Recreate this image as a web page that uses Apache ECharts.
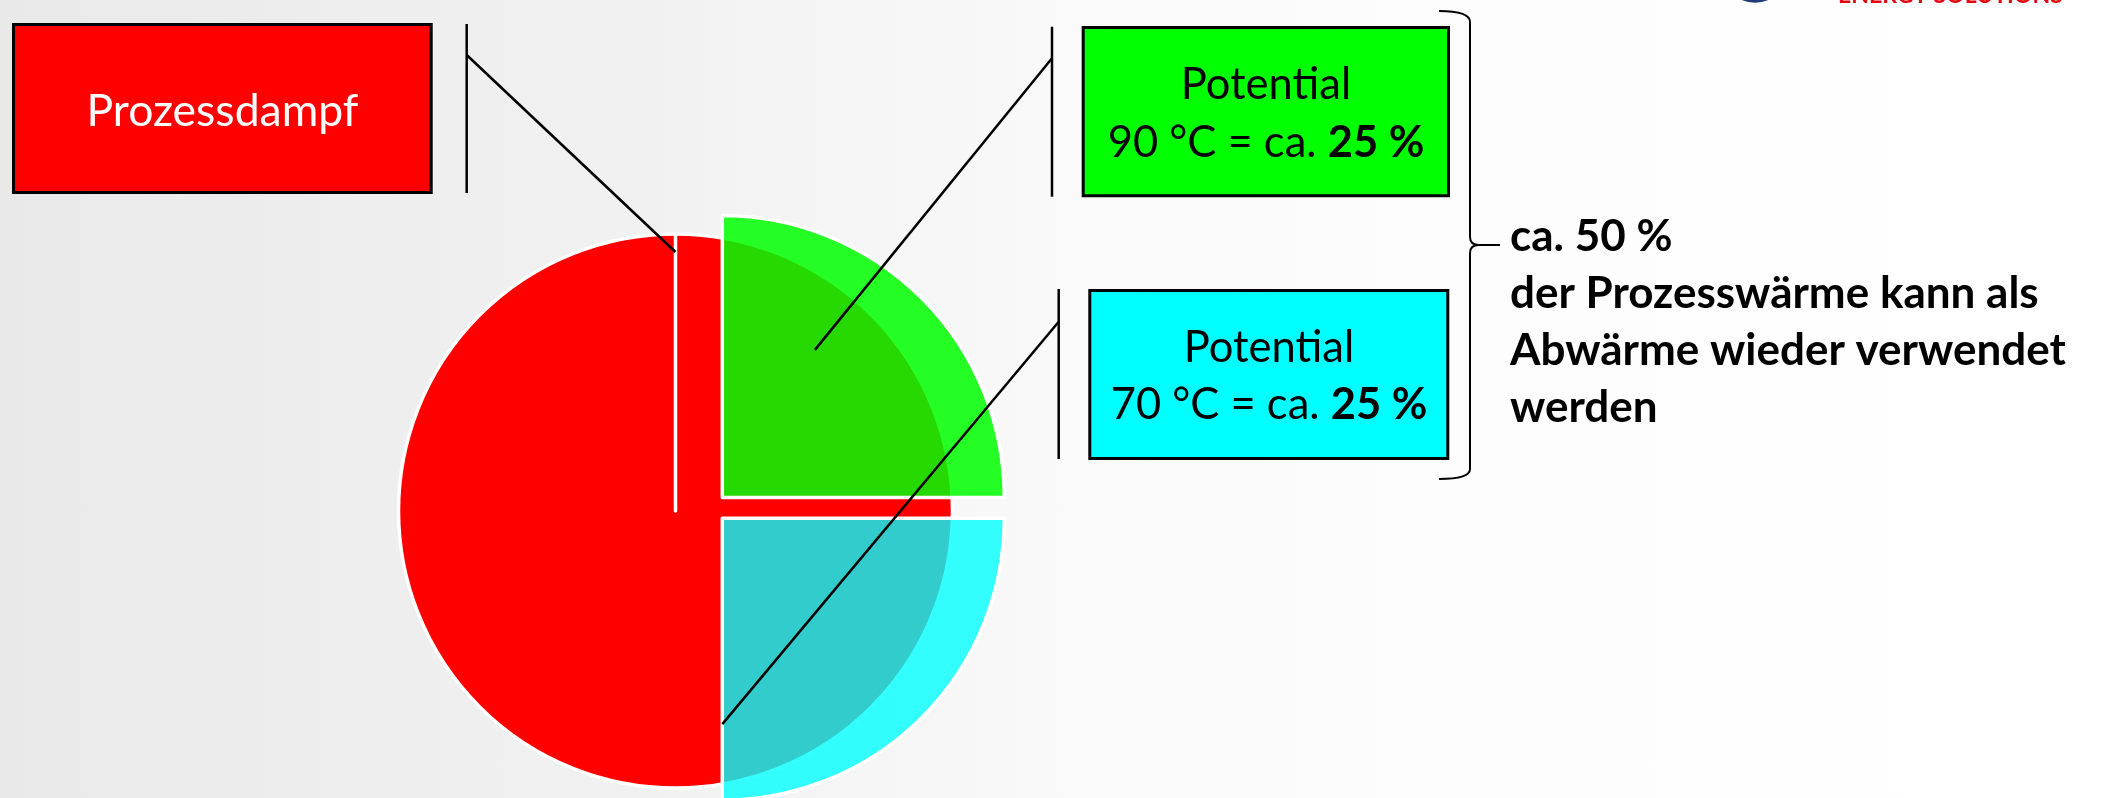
<!DOCTYPE html>
<html>
<head>
<meta charset="utf-8">
<script src="https://cdn.jsdelivr.net/npm/echarts@6/dist/echarts.min.js"></script>
<style>
  html, body { margin: 0; padding: 0; overflow: hidden; }
  #chart {
    width: 2105px; height: 798px;
    background: linear-gradient(90deg, #e9e9e9 0%, #f1f1f1 30%, #f9f9f9 50%, #fdfdfd 70%, #ffffff 100%);
  }
</style>
</head>
<body>
<div id="chart"></div>
<script>
// Anteile an der Prozesswärme (Prozent)
const categories = ['Prozessdampf', 'Potential', 'Potential'];
const temperatures = ['', '90 °C', '70 °C'];
const shares = [100, 25, 25];
const reusableShare = 50;
const noteLines = ['der Prozesswärme kann als', 'Abwärme wieder verwendet', 'werden'];
const logoText = 'ENERGY SOLUTIONS';

const FONT = 'Lato, "Open Sans", sans-serif';
const RED = '#ff0000';
const GREEN = 'rgba(0,255,0,0.85)';
const CYAN = 'rgba(0,255,255,0.8)';

// Layout of the three pies
const baseCenter = [675.5, 511], baseR = 277;
const hotCenter = [722.3, 497.5], warmCenter = [722.3, 518.3], outerR = 282;

// point inside a pie, given angle (deg, counter-clockwise from 3 o'clock) and radius fraction
function polar(c, r, deg, f) {
  const a = deg * Math.PI / 180;
  return [c[0] + Math.cos(a) * r * f, c[1] - Math.sin(a) * r * f];
}

const blank = { color: 'rgba(0,0,0,0)', borderWidth: 0 };
const pieCommon = {
  type: 'pie', silent: true, animation: false, clockwise: true,
  label: { show: false }, labelLine: { show: false },
  emphasis: { disabled: true },
  itemStyle: { borderColor: '#ffffff', borderWidth: 3.5 }
};

const series = [
  // total process steam; the zero-width piece marks the 12 o'clock seam
  Object.assign({}, pieCommon, {
    center: baseCenter, radius: baseR, startAngle: 90,
    data: [
      { name: categories[0], value: shares[0], itemStyle: { color: RED } },
      { name: '', value: 0, itemStyle: { color: RED } }
    ]
  }),
  Object.assign({}, pieCommon, {
    center: hotCenter, radius: outerR, startAngle: 90,
    data: [
      { name: categories[1] + ' ' + temperatures[1], value: shares[1], itemStyle: { color: GREEN } },
      { name: '', value: 100 - shares[1], itemStyle: blank }
    ]
  }),
  Object.assign({}, pieCommon, {
    center: warmCenter, radius: outerR, startAngle: 0,
    data: [
      { name: categories[2] + ' ' + temperatures[2], value: shares[2], itemStyle: { color: CYAN } },
      { name: '', value: 100 - shares[2], itemStyle: blank }
    ]
  })
];

// leader anchors inside the slices
const anchorRed = polar(baseCenter, baseR, 90, 0.935);
const anchorHot = polar(hotCenter, outerR, 57.9, 0.618);
const anchorWarm = polar(warmCenter, outerR, -90, 0.73);

const lineStyle = { stroke: '#000', lineWidth: 2.5, fill: null };
const boxText = (x, y, txt, fill, size) => ({
  type: 'text', z: 102, x: x, y: y,
  style: {
    text: txt, fill: fill, font: size + 'px ' + FONT, lineHeight: 57.7,
    align: 'center', verticalAlign: 'middle', textAlign: 'center', textVerticalAlign: 'middle',
    rich: { b: { fontWeight: 'bold', fontSize: size, fontFamily: FONT, fill: fill, lineHeight: 57.7 } }
  }
});
const potLabel = i => categories[i] + '\n' + temperatures[i] + ' = ca. {b|' + shares[i] + ' %}';

const graphic = [
  // Prozessdampf callout
  { type: 'rect', z: 100, shape: { x: 13.5, y: 24.5, width: 417.7, height: 168 }, style: { fill: RED, stroke: '#000', lineWidth: 3 } },
  boxText(222.5, 111.5, categories[0], '#ffffff', 44.5),
  { type: 'line', z: 100, shape: { x1: 466.7, y1: 24, x2: 466.7, y2: 193 }, style: lineStyle },
  { type: 'line', z: 100, shape: { x1: 466.7, y1: 55, x2: anchorRed[0], y2: anchorRed[1] }, style: lineStyle },

  // 90 °C callout
  { type: 'rect', z: 100, shape: { x: 1083.2, y: 27.5, width: 365.3, height: 168.3 }, style: { fill: '#00ff00', stroke: '#000', lineWidth: 3 } },
  boxText(1266, 114.2, potLabel(1), '#000000', 43.5),
  { type: 'line', z: 100, shape: { x1: 1052, y1: 26.7, x2: 1052, y2: 196.7 }, style: lineStyle },
  { type: 'line', z: 100, shape: { x1: 1052, y1: 58.3, x2: anchorHot[0], y2: anchorHot[1] }, style: lineStyle },

  // 70 °C callout
  { type: 'rect', z: 100, shape: { x: 1089.8, y: 290.5, width: 358, height: 168 }, style: { fill: '#00ffff', stroke: '#000', lineWidth: 3 } },
  boxText(1269, 376.5, potLabel(2), '#000000', 43.5),
  { type: 'line', z: 100, shape: { x1: 1058.7, y1: 289, x2: 1058.7, y2: 459 }, style: lineStyle },
  { type: 'line', z: 100, shape: { x1: 1058.7, y1: 321.7, x2: anchorWarm[0], y2: anchorWarm[1] }, style: lineStyle },

  // curly brace grouping both potentials
  { type: 'bezierCurve', z: 100, shape: { x1: 1439, y1: 11, cpx1: 1470, cpy1: 11, x2: 1470, y2: 22 }, style: { stroke: '#000', lineWidth: 2, fill: null } },
  { type: 'line', z: 100, shape: { x1: 1470, y1: 22, x2: 1470, y2: 237 }, style: { stroke: '#000', lineWidth: 2 } },
  { type: 'bezierCurve', z: 100, shape: { x1: 1470, y1: 237, cpx1: 1470, cpy1: 245, x2: 1479, y2: 245 }, style: { stroke: '#000', lineWidth: 2, fill: null } },
  { type: 'line', z: 100, shape: { x1: 1479, y1: 245, x2: 1500, y2: 245 }, style: { stroke: '#000', lineWidth: 2 } },
  { type: 'bezierCurve', z: 100, shape: { x1: 1479, y1: 245, cpx1: 1470, cpy1: 245, x2: 1470, y2: 253 }, style: { stroke: '#000', lineWidth: 2, fill: null } },
  { type: 'line', z: 100, shape: { x1: 1470, y1: 253, x2: 1470, y2: 469 }, style: { stroke: '#000', lineWidth: 2 } },
  { type: 'bezierCurve', z: 100, shape: { x1: 1470, y1: 469, cpx1: 1470, cpy1: 479, x2: 1439, y2: 479 }, style: { stroke: '#000', lineWidth: 2, fill: null } },

  // note beside the brace
  {
    type: 'text', z: 102, x: 1510, y: 208,
    style: {
      text: ['ca. ' + reusableShare + ' %'].concat(noteLines).join('\n'),
      fill: '#000', font: 'bold 44px ' + FONT, lineHeight: 57.2,
      align: 'left', verticalAlign: 'top', textAlign: 'left', textVerticalAlign: 'top'
    }
  },

  // logo remnant at the top edge
  { type: 'circle', z: 100, shape: { cx: 1755, cy: -32.3, r: 35 }, style: { fill: '#1d3c78' } },
  {
    type: 'text', z: 102, x: 1838, y: -4.4,
    style: { text: logoText, fill: '#e30613', font: 'bold 23px ' + FONT, align: 'left', verticalAlign: 'middle', textAlign: 'left', textVerticalAlign: 'middle' }
  }
];

const chart = echarts.init(document.getElementById('chart'), null, { renderer: 'canvas' });
chart.setOption({
  backgroundColor: 'transparent',
  animation: false,
  series: series,
  graphic: graphic
});
</script>
</body>
</html>
